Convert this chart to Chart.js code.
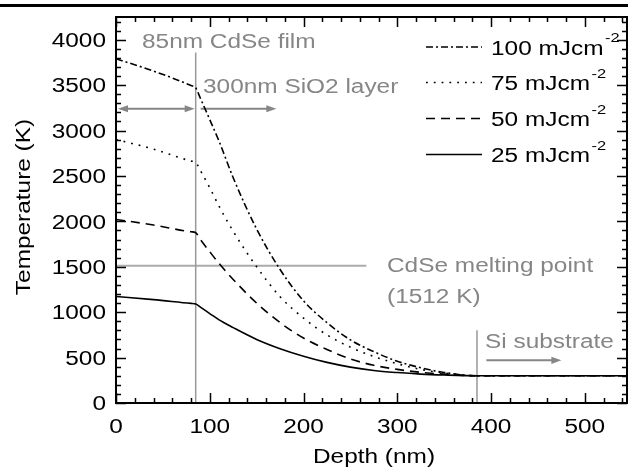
<!DOCTYPE html>
<html>
<head>
<meta charset="utf-8">
<script src="https://cdn.jsdelivr.net/npm/chart.js@4.4.1/dist/chart.umd.min.js"></script>
<style>
  html, body { margin: 0; padding: 0; background: #fff; }
  canvas { display: block; }
</style>
</head>
<body>
<canvas id="tempChart" width="628" height="468"></canvas>
<script>
// depth profile, nm
const depthNm  = [0, 40, 80, 85, 90, 100, 110, 125, 150, 175, 200, 225, 250, 275, 300, 325, 350, 385, 450, 545];
// temperature (K) per fluence
const temp100 = [3790, 3655, 3495, 3470, 3355, 3120, 2880, 2480, 1915, 1470, 1125, 885, 695, 565, 460, 388, 336, 300, 300, 300];
const temp75  = [2902, 2795, 2665, 2650, 2560, 2370, 2165, 1890, 1500, 1170, 935, 750, 615, 512, 432, 370, 330, 300, 300, 300];
const temp50  = [2021, 1960, 1885, 1875, 1800, 1665, 1535, 1360, 1100, 885, 715, 590, 485, 415, 370, 338, 318, 300, 300, 300];
const temp25  = [1172, 1138, 1097, 1091, 1055, 985, 915, 830, 700, 598, 515, 447, 395, 358, 335, 318, 308, 300, 300, 300];

const fluences   = ['100', '75', '50', '25'];
const xTickVals  = [0, 100, 200, 300, 400, 500];
const yTickVals  = [0, 500, 1000, 1500, 2000, 2500, 3000, 3500, 4000];

const filmDepth  = 85;
const siDepth    = 385;
const meltTemp   = 1512;

const SX   = 1.22;   // the source font runs wide
const FONT = '"Liberation Sans", Arial, Helvetica, sans-serif';
const GRAY = '#868686';
const dashes = [[7, 3, 2, 3], [1.8, 6], [9, 6], []];

function txt(ctx, s, x, y, size, color, align, rot) {
  ctx.save();
  ctx.font = size + 'px ' + FONT;
  ctx.fillStyle = color;
  ctx.textBaseline = 'alphabetic';
  ctx.textAlign = align || 'left';
  ctx.translate(x, y);
  if (rot) ctx.rotate(-Math.PI / 2);
  ctx.scale(SX, 1);
  ctx.fillText(s, 0, 0);
  ctx.restore();
}

function arrow(ctx, x1, x2, y, both) {
  ctx.save();
  ctx.strokeStyle = GRAY; ctx.fillStyle = GRAY; ctx.lineWidth = 2;
  ctx.beginPath(); ctx.moveTo(x1 + (both ? 6 : 0), y); ctx.lineTo(x2 - 6, y); ctx.stroke();
  const head = (tip, dir) => {
    ctx.beginPath();
    ctx.moveTo(tip, y);
    ctx.lineTo(tip - dir * 10, y - 3.6);
    ctx.lineTo(tip - dir * 10, y + 3.6);
    ctx.closePath(); ctx.fill();
  };
  head(x2, 1);
  if (both) head(x1, -1);
  ctx.restore();
}

const guides = {
  id: 'guides',
  beforeDatasetsDraw(chart) {
    const { ctx, chartArea: a, scales: { x, y } } = chart;
    ctx.save();
    ctx.strokeStyle = '#ababab'; ctx.lineWidth = 2;
    ctx.beginPath();
    ctx.moveTo(a.left, y.getPixelForValue(meltTemp));
    ctx.lineTo(x.getPixelForValue(267), y.getPixelForValue(meltTemp));
    ctx.stroke();
    ctx.strokeStyle = '#999'; ctx.lineWidth = 1.5;
    ctx.beginPath();
    ctx.moveTo(x.getPixelForValue(filmDepth), y.getPixelForValue(3860));
    ctx.lineTo(x.getPixelForValue(filmDepth), a.bottom);
    ctx.moveTo(x.getPixelForValue(siDepth), y.getPixelForValue(800));
    ctx.lineTo(x.getPixelForValue(siDepth), a.bottom);
    ctx.stroke();
    ctx.restore();

    const ay = y.getPixelForValue(3240);
    arrow(ctx, a.left + 2, x.getPixelForValue(filmDepth) - 1, ay, true);
    arrow(ctx, x.getPixelForValue(filmDepth) + 5, x.getPixelForValue(171), ay, false);
    arrow(ctx, x.getPixelForValue(395), x.getPixelForValue(475), y.getPixelForValue(470), false);
  },
  afterDraw(chart) {
    const { ctx, chartArea: a, scales: { x, y } } = chart;
    ctx.save();
    // top rule of the page
    ctx.fillStyle = '#000';
    ctx.fillRect(0, 4, 628, 3);

    // frame + inward ticks on all sides
    ctx.strokeStyle = '#000'; ctx.lineWidth = 1.5;
    ctx.beginPath();
    for (let v = 0; v <= 545; v += 20) {
      const px = Math.round(x.getPixelForValue(v)) + 0.5;
      const len = v % 100 === 0 ? 10 : 5;
      ctx.moveTo(px, a.bottom); ctx.lineTo(px, a.bottom - len);
      ctx.moveTo(px, a.top);    ctx.lineTo(px, a.top + len);
    }
    for (let v = 0; v <= 4250; v += 100) {
      const py = Math.round(y.getPixelForValue(v)) + 0.5;
      const len = v % 500 === 0 ? 10 : 5;
      ctx.moveTo(a.left, py);  ctx.lineTo(a.left + len, py);
      ctx.moveTo(a.right, py); ctx.lineTo(a.right - len, py);
    }
    ctx.stroke();
    ctx.lineWidth = 2;
    ctx.strokeRect(a.left, a.top, a.right - a.left, a.bottom - a.top);
    ctx.restore();

    // tick labels
    xTickVals.forEach(v => txt(ctx, String(v), x.getPixelForValue(v), 433, 20, '#000', 'center'));
    yTickVals.forEach(v => txt(ctx, String(v), 106, y.getPixelForValue(v) + 7.2, 20, '#000', 'right'));

    // axis titles
    txt(ctx, 'Depth (nm)', 374, 463, 20, '#000', 'center');
    txt(ctx, 'Temperature (K)', 29.5, 207, 20, '#000', 'center', true);

    // annotations
    txt(ctx, '85nm CdSe film', 142, 47.5, 20, GRAY);
    txt(ctx, '300nm SiO2 layer', 203, 92.5, 20, GRAY);
    txt(ctx, 'CdSe melting point', 387, 272, 20, GRAY);
    txt(ctx, '(1512 K)', 387, 303, 20, GRAY);
    txt(ctx, 'Si substrate', 485, 348, 20, GRAY);

    // legend
    const rows = [47, 82.5, 118.5, 154.5];
    chart.data.datasets.forEach((ds, i) => {
      const ry = rows[i];
      ctx.save();
      ctx.strokeStyle = '#000'; ctx.lineWidth = 1.6;
      ctx.setLineDash(ds.borderDash);
      ctx.beginPath(); ctx.moveTo(426, ry); ctx.lineTo(482, ry); ctx.stroke();
      ctx.restore();
      const main = ds.label + ' mJcm';
      txt(ctx, main, 491, ry + 7.5, 20, '#000');
      ctx.save();
      ctx.font = '20px ' + FONT;
      const w = ctx.measureText(main).width * SX;
      ctx.restore();
      txt(ctx, '-2', 491 + w + 1.5, ry - 5, 13.5, '#000');
    });
  }
};

const allTemps = [temp100, temp75, temp50, temp25];

new Chart(document.getElementById('tempChart'), {
  type: 'line',
  data: {
    datasets: fluences.map((f, i) => ({
      label: f,
      data: depthNm.map((d, k) => ({ x: d, y: allTemps[i][k] })),
      borderColor: '#000',
      borderWidth: 1.6,
      borderDash: dashes[i],
      pointRadius: 0,
      fill: false,
      cubicInterpolationMode: 'monotone',
    })),
  },
  options: {
    responsive: false,
    animation: false,
    devicePixelRatio: 1,
    layout: { padding: { top: 17, right: 1, left: 0, bottom: 0 } },
    plugins: { legend: { display: false }, tooltip: { enabled: false } },
    scales: {
      x: {
        type: 'linear', min: 0, max: 545,
        ticks: { display: false }, grid: { display: false }, border: { display: false },
        afterFit: s => { s.height = 65; },
      },
      y: {
        type: 'linear', min: 0, max: 4250,
        ticks: { display: false }, grid: { display: false }, border: { display: false },
        afterFit: s => { s.width = 116; },
      },
    },
  },
  plugins: [guides],
});
</script>
</body>
</html>
